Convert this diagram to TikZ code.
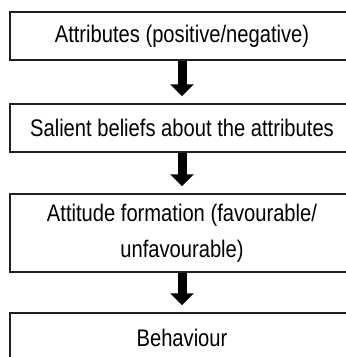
\documentclass[tikz,border=0pt]{standalone}
\usepackage{fontspec}
\setmainfont[FakeStretch=0.84]{Liberation Sans}
\usetikzlibrary{arrows.meta}
\begin{document}
\begin{tikzpicture}[x=1pt,y=-1pt,
  stage/.style={draw=black!88, line width=1.5pt, rectangle, minimum width=344pt,
    inner sep=0pt, align=center, text=black,
    font=\fontsize{24pt}{36pt}\selectfont},
  flowarrow/.style={draw=black, line width=9pt,
    -{Triangle[length=12pt,width=23pt]}, shorten >=7pt}
]
\useasboundingbox (0,0) rectangle (346,357);
\clip (0,0) rectangle (346,357);
\fill[white] (0,0) rectangle (346,357);

\node[stage, minimum height=48pt] (attr) at (182,36) {Attributes (positive/negative)};
\node[stage, minimum height=48pt] (belief) at (182,128) {Salient beliefs about the attributes};
\node[stage, minimum height=78pt] (attitude) at (182,233) {Attitude formation (favourable/\\unfavourable)};
\node[stage, minimum height=50pt] (behav) at (182,338) {Behaviour};

\draw[flowarrow] (attr.south) -- (belief.north);
\draw[flowarrow] (belief.south) -- (attitude.north);
\draw[flowarrow] (attitude.south) -- (behav.north);
\end{tikzpicture}
\end{document}
